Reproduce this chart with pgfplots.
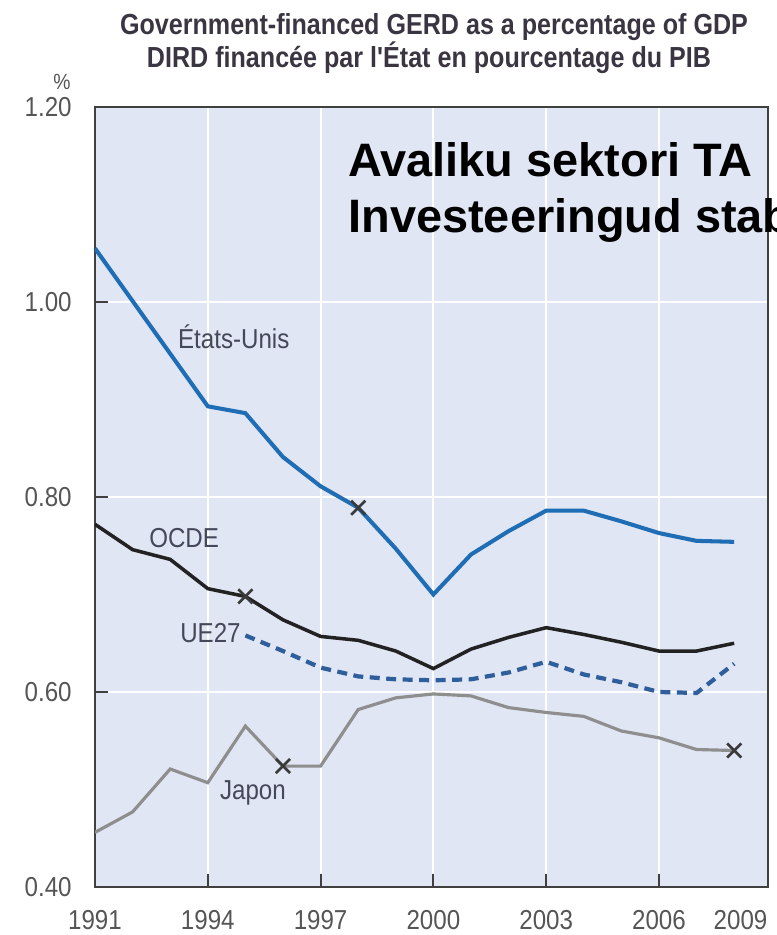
\documentclass[border=0pt]{standalone}
\usepackage{pgfplots}
\pgfplotsset{compat=1.18}
\usepackage{fontspec}
\setmainfont{Liberation Sans}[FakeStretch=0.88]
\newfontfamily\titlefont{Liberation Sans}[FakeStretch=0.866]
\newfontfamily\bigfont{Liberation Sans}
\definecolor{bgc}{HTML}{E0E6F3}
\definecolor{usblue}{HTML}{1F6DB5}
\definecolor{eublue}{HTML}{2E5F9C}
\definecolor{oecdc}{HTML}{222222}
\definecolor{jpc}{HTML}{8E8E8E}
\definecolor{labc}{HTML}{45485A}
\definecolor{tickc}{HTML}{555555}
\definecolor{titc}{HTML}{3B3542}
\definecolor{axc}{HTML}{404040}
\definecolor{markc}{HTML}{3A3A3A}
\begin{document}
\begin{tikzpicture}
\begin{axis}[
  at={(1.9cm,0.96cm)}, anchor=south west,
  width=13.46cm, height=15.6cm, scale only axis,
  xmin=1991, xmax=2008.9, ymin=0.4, ymax=1.2,
  axis background/.style={fill=bgc},
  axis line style={draw=axc, line width=1.4pt},
  xtick={1994,1997,2000,2003,2006},
  xticklabels={1994,1997,2000,2003,2006},
  extra x ticks={1991,2008.17},
  extra x tick labels={1991,2009},
  extra x tick style={grid=none, major tick length=0pt},
  ytick={0.6,0.8,1.0},
  yticklabels={0.60,0.80,1.00},
  extra y ticks={0.4,1.2},
  extra y tick labels={0.40,1.20},
  extra y tick style={grid=none, major tick length=0pt},
  xtick pos=bottom, ytick pos=left,
  tick align=inside,
  major tick length=0.26cm,
  tick style={draw=axc, line width=1.2pt},
  grid=major,
  major grid style={white, line width=1.1pt},
  tick label style={font=\fontsize{15.6pt}{18pt}\selectfont, text=tickc},
  xticklabel style={anchor=north, inner sep=0pt, yshift=-0.46cm},
  yticklabel style={anchor=east, inner sep=0pt, xshift=-0.46cm},
]
% Etats-Unis
\addplot[usblue, line width=2.3pt] coordinates {
(1991,1.055)(1992,1.001)(1993,0.947)(1994,0.893)(1995,0.886)(1996,0.841)
(1997,0.811)(1998,0.789)(1999,0.747)(2000,0.700)(2001,0.741)(2002,0.765)
(2003,0.786)(2004,0.786)(2005,0.775)(2006,0.763)(2007,0.755)(2008,0.754)};
% OCDE
\addplot[oecdc, line width=2pt] coordinates {
(1991,0.772)(1992,0.746)(1993,0.736)(1994,0.706)(1995,0.698)(1996,0.674)
(1997,0.657)(1998,0.653)(1999,0.642)(2000,0.624)(2001,0.644)(2002,0.656)
(2003,0.666)(2004,0.659)(2005,0.651)(2006,0.642)(2007,0.642)(2008,0.650)};
% UE27
\addplot[eublue, line width=2.4pt, dash pattern=on 0.2cm off 0.13cm] coordinates {
(1995,0.658)(1996,0.642)(1997,0.625)(1998,0.616)(1999,0.613)(2000,0.612)
(2001,0.613)(2002,0.620)(2003,0.631)(2004,0.618)(2005,0.610)(2006,0.600)
(2007,0.599)(2008,0.629)};
% Japon
\addplot[jpc, line width=1.8pt] coordinates {
(1991,0.456)(1992,0.477)(1993,0.521)(1994,0.507)(1995,0.565)(1996,0.524)
(1997,0.524)(1998,0.582)(1999,0.594)(2000,0.598)(2001,0.596)(2002,0.584)
(2003,0.579)(2004,0.575)(2005,0.560)(2006,0.553)(2007,0.541)(2008,0.540)};
% break markers
\addplot[only marks, mark=x, mark size=0.2cm, mark options={draw=markc, line width=1.5pt}] coordinates {
(1998,0.789)(1995,0.698)(1996,0.524)(2008,0.540)};
% series labels
\node[anchor=base, text=labc, font=\fontsize{15.6pt}{18pt}\selectfont, inner sep=0pt] at (axis cs:1994.69,0.952) {États-Unis};
\node[anchor=base, text=labc, font=\fontsize{15.6pt}{18pt}\selectfont, inner sep=0pt] at (axis cs:1993.37,0.748) {OCDE};
\node[anchor=base, text=labc, font=\fontsize{15.6pt}{18pt}\selectfont, inner sep=0pt] at (axis cs:1994.07,0.651) {UE27};
\node[anchor=base, text=labc, font=\fontsize{15.6pt}{18pt}\selectfont, inner sep=0pt] at (axis cs:1995.2,0.490) {Japon};
\end{axis}
% titles
\node[anchor=base, inner sep=0pt, text=titc, font=\titlefont\bfseries\fontsize{16.5pt}{19pt}\selectfont] at (8.68,18.0) {Government-financed GERD as a percentage of GDP};
\node[anchor=base, inner sep=0pt, text=titc, font=\titlefont\bfseries\fontsize{16.5pt}{19pt}\selectfont] at (8.58,17.34) {DIRD financée par l'État en pourcentage du PIB};
\node[inner sep=0pt, text=tickc, font=\fontsize{12.5pt}{14pt}\selectfont] at (1.24,17.06) {\%};
% overlay text (cut off at the right edge, as in the reference)
\begin{scope}
\clip (0,0) rectangle (15.52,18.7);
\node[anchor=base west, inner sep=0pt, font=\bigfont\bfseries\fontsize{26.7pt}{32pt}\selectfont] at (6.96,15.16) {Avaliku sektori TA};
\node[anchor=base west, inner sep=0pt, font=\bigfont\bfseries\fontsize{26.7pt}{32pt}\selectfont] at (6.96,14.04) {Investeeringud stabiilsed};
\end{scope}
\pgfresetboundingbox
\useasboundingbox (0,0) rectangle (15.52,18.7);
\end{tikzpicture}
\end{document}
